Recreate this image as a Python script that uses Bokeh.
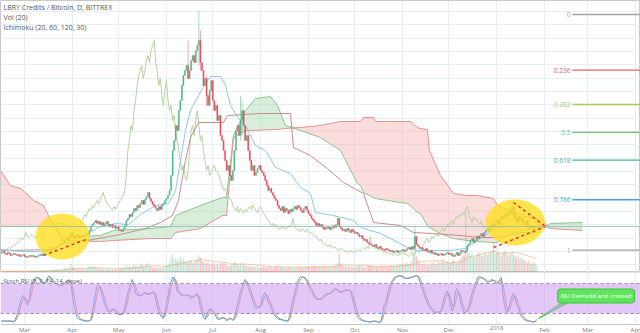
import numpy as np
import pandas as pd
from bokeh.plotting import figure
from bokeh.models import Range1d, FixedTicker, Span, Label, BoxAnnotation
from bokeh.layouts import column
from bokeh.embed import file_html
from bokeh.resources import INLINE
from bokeh.core.properties import value

# ---------------- data (day index 0 = 2017-02-13, prices in satoshi) ----------------
month_days = [16, 47, 77, 108, 138, 169, 200, 230, 261, 291, 322, 353, 381, 412]
month_labels = ["Mar", "Apr", "May", "Jun", "Jul", "Aug", "Sep", "Oct", "Nov", "Dec", "2018", "Feb", "Mar", "Apr"]

first_open = 1850
close = [
    1925, 2000, 1850, 1775, 1925, 1850, 1700, 1775, 1850, 1775,
    1700, 1775, 1625, 1700, 1775, 1625, 1550, 1625, 1700, 1625,
    1700, 1625, 1550, 1625, 1700, 1775, 1700, 1850, 1925, 2000,
    2075, 2150, 2075, 2225, 2300, 2225, 2375, 2450, 2525, 2600,
    2675, 2825, 2975, 2900, 3125, 3425, 3125, 3050, 3200, 3275,
    3125, 3050, 3200, 3125, 3275, 3350, 3275, 3575, 3875, 4025,
    4175, 4325, 4100, 4250, 4025, 4175, 3950, 4100, 4250, 4025,
    3875, 4025, 3800, 3950, 3725, 3875, 3650, 3575, 3500, 3725,
    3950, 4325, 4475, 4775, 4625, 4925, 5225, 5075, 5450, 5300,
    5600, 5825, 5525, 5900, 6125, 6425, 5975, 5750, 5525, 5375,
    5225, 5075, 5375, 5150, 5450, 5600, 5825, 5975, 6200, 6575,
    7700, 9575, 10325, 11450, 11075, 12575, 13325, 14450, 15200, 15575,
    15950, 14975, 15575, 16325, 16700, 16175, 17075, 17450, 17825, 16175,
    15575, 14450, 14975, 13700, 12950, 14075, 14825, 13325, 12575, 12950,
    11825, 12200, 10700, 10325, 9575, 8825, 8075, 8450, 7700, 7325,
    8075, 9575, 11075, 11450, 10700, 11825, 12575, 11450, 10325, 10700,
    9575, 8825, 8075, 8450, 7700, 7925, 8225, 8450, 8075, 7925,
    7700, 7325, 6950, 6575, 6725, 6425, 6200, 5975, 5825, 5450,
    5225, 5075, 5375, 4925, 5225, 5075, 4850, 5150, 5000, 5225,
    5375, 5150, 5450, 5300, 5075, 4925, 5225, 5375, 5075, 4850,
    4700, 4475, 4325, 4175, 3950, 4100, 3875, 4025, 3800, 3650,
    3800, 3725, 3875, 3650, 3725, 3950, 3800, 4025, 4475, 3875,
    3725, 3575, 3650, 3500, 3725, 3575, 3425, 3650, 3500, 3350,
    3425, 3275, 3125, 3200, 2975, 2825, 2900, 2675, 2600, 2525,
    2450, 2375, 2525, 2300, 2225, 2375, 2225, 2150, 2075, 2225,
    2150, 2075, 2000, 2075, 1925, 2000, 2075, 1925, 2000, 2075,
    2150, 2000, 2075, 2225, 2300, 2150, 2375, 2225, 3125, 2525,
    2375, 2225, 2300, 2150, 2075, 2225, 2000, 1925, 2075, 1850,
    1925, 1775, 1850, 1700, 1775, 1850, 1700, 1775, 1850, 1925,
    1775, 1850, 1700, 1625, 1775, 1925, 1700, 1850, 2075, 2000,
    1925, 2075, 2450, 2600, 2825, 2975, 2675, 2825, 3125, 2975,
    3200, 3350, 3125, 3425, 3575, 3725, 3500, 3800, 4025, 3875,
    4175, 4325, 4025, 4400, 4625, 4475, 4775, 4625, 4925, 4775,
    5225, 5375, 4775, 4475, 4175, 4625, 4325, 4475, 4175, 4025,
    4325, 3875, 3725, 3950, 3800, 3650, 3875, 3875,
]
wick_days = [122, 129, 130, 134, 156, 157, 269, 332]
wick_highs = [17825, 20075, 18575, 15200, 13700, 13325, 3950, 5825]
wick_lows = [14975, 15950, 15575, 12950, 10325, 10700, 2225, 4775]

volume = [
    12, 15, 10, 18, 12, 20, 14, 10, 16, 12,
    14, 10, 12, 18, 15, 11, 20, 13, 16, 12,
    18, 14, 12, 20, 16, 22, 15, 25, 20, 18,
    22, 26, 18, 30, 24, 28, 35, 30, 26, 32,
    40, 45, 60, 38, 50, 85, 55, 42, 48, 40,
    35, 30, 42, 36, 28, 34, 45, 60, 70, 55,
    65, 50, 45, 40, 38, 42, 35, 30, 40, 36,
    32, 28, 35, 30, 38, 33, 40, 36, 45, 50,
    60, 75, 55, 70, 50, 65, 80, 60, 70, 55,
    75, 90, 60, 70, 85, 95, 60, 55, 50, 45,
    50, 45, 55, 48, 52, 60, 65, 70, 80, 95,
    150, 180, 120, 140, 110, 130, 160, 120, 140, 110,
    120, 100, 115, 130, 90, 105, 120, 140, 170, 150,
    120, 110, 90, 100, 95, 80, 85, 95, 80, 75,
    85, 70, 90, 95, 80, 100, 75, 70, 65, 80,
    90, 110, 95, 85, 70, 80, 95, 75, 70, 65,
    60, 70, 55, 65, 58, 50, 62, 55, 48, 52,
    60, 55, 50, 58, 62, 55, 48, 52, 60, 70,
    55, 60, 50, 45, 52, 48, 55, 60, 50, 45,
    50, 48, 55, 60, 52, 45, 50, 55, 62, 58,
    55, 60, 70, 65, 58, 62, 55, 50, 60, 65,
    70, 60, 55, 62, 58, 65, 70, 80, 100, 190,
    90, 70, 65, 60, 58, 55, 62, 60, 55, 50,
    60, 65, 70, 62, 58, 55, 60, 65, 70, 75,
    68, 60, 55, 62, 58, 65, 70, 60, 55, 62,
    58, 65, 70, 75, 68, 62, 70, 80, 75, 85,
    90, 80, 95, 100, 85, 90, 110, 180, 400, 160,
    120, 100, 90, 85, 95, 80, 75, 90, 85, 95,
    100, 90, 85, 110, 95, 105, 120, 100, 115, 110,
    95, 105, 110, 120, 100, 95, 110, 130, 150, 170,
    180, 600, 260, 200, 170, 190, 150, 160, 180, 200,
    190, 170, 160, 200, 180, 175, 190, 210, 220, 300,
    200, 190, 210, 180, 170, 195, 220, 200, 180, 170,
    190, 210, 180, 160, 150, 170, 140, 150, 130, 120,
    110, 100, 120, 90, 80, 100, 85, 70,
]

stoch_k = [
    5, 5, 5, 5, 5, 5, 5, 4, 3, 8,
    16, 25, 40, 50, 56, 52, 42, 36, 50, 68,
    80, 88, 91, 93, 92, 86, 81, 80, 82, 84,
    92, 95, 90, 86, 82, 80, 78, 77, 75, 76,
    78, 81, 84, 85, 86, 82, 58, 36, 24, 12,
    9, 8, 7, 6, 5, 5, 5, 6, 8, 22,
    42, 60, 75, 76, 71, 60, 48, 38, 30, 24,
    23, 26, 29, 29, 24, 20, 18, 18, 19, 20,
    32, 48, 62, 72, 82, 88, 74, 60, 57, 56,
    55, 58, 61, 62, 60, 58, 59, 61, 63, 62,
    48, 33, 24, 17, 12, 10, 22, 40, 55, 72,
    84, 92, 92, 78, 64, 60, 58, 56, 55, 56,
    57, 58, 53, 50, 53, 56, 58, 60, 48, 32,
    22, 12, 8, 15, 25, 30, 27, 23, 20, 14,
    9, 8, 10, 12, 12, 8, 5, 9, 12, 9,
    6, 10, 25, 40, 52, 64, 74, 82, 88, 82,
    72, 62, 55, 45, 35, 30, 32, 34, 35, 48,
    58, 62, 52, 43, 38, 30, 22, 17, 13, 10,
    8, 8, 7, 6, 5, 5, 6, 18, 35, 48,
    60, 72, 84, 90, 94, 93, 91, 90, 84, 76,
    70, 64, 58, 52, 49, 48, 48, 49, 52, 55,
    58, 59, 60, 60, 63, 67, 70, 69, 65, 63,
    62, 64, 66, 68, 67, 66, 66, 56, 44, 32,
    22, 12, 9, 7, 6, 5, 4, 4, 3, 3,
    4, 5, 5, 4, 3, 2, 4, 18, 35, 42,
    55, 68, 78, 84, 89, 93, 94, 95, 96, 95,
    93, 91, 90, 90, 91, 92, 93, 94, 95, 96,
    94, 85, 75, 68, 58, 48, 42, 35, 30, 26,
    24, 22, 22, 23, 24, 25, 40, 52, 60, 65,
    55, 40, 25, 30, 58, 70, 66, 50, 38, 28,
    22, 23, 25, 35, 48, 60, 70, 78, 86, 93,
    94, 91, 90, 88, 85, 82, 84, 86, 88, 86,
    83, 80, 82, 88, 92, 60, 38, 25, 22, 32,
    45, 55, 60, 50, 38, 32, 22, 14, 10, 8,
    6, 5, 5, 4, 3, 3, 5, 8,
]

# Ichimoku (20, 60, 120, 30) lines: (day, price)
conv_days = [0.5, 13.4, 26.4, 36.1, 45.8, 55.5, 65.3, 75.0, 83.4, 91.2, 100.9, 109.3, 113.9, 117.1,
             120.3, 123.6, 128.8, 133.3, 136.5, 143.0, 146.3, 149.5, 154.7, 159.2, 165.7, 172.2,
             178.7, 188.4, 194.9, 201.3, 204.6, 216.2, 229.2, 233.7, 246.7, 253.2, 264.2, 270.7,
             281.0, 292.1, 301.8, 311.5, 321.2, 331.0, 340.7, 348.4]
conv_vals = [2150, 2000, 2000, 2300, 2825, 3275, 3875, 4100, 4025, 4775, 5450, 5600, 6575, 8825,
             11075, 12575, 13700, 14600, 15125, 15125, 14450, 12950, 11975, 11450, 9950, 9575,
             8300, 7850, 6800, 6350, 4925, 4700, 4325, 3800, 3350, 2975, 2300, 2075,
             2075, 2075, 2225, 2975, 3725, 4475, 4700, 4175]
base_days = [0.5, 36.1, 39.3, 56.8, 78.2, 94.4, 104.1, 111.9, 115.8, 120.3, 123.6, 128.8, 145.0,
             147.5, 168.9, 188.4, 190.3, 201.3, 212.3, 222.7, 235.7, 242.2, 259.7, 268.1, 281.0,
             298.5, 311.5, 324.5, 337.4, 348.4]
base_vals = [2075, 2150, 2600, 2825, 3275, 3725, 4175, 4700, 5825, 8825, 10550, 11675, 11675,
             12200, 12350, 12350, 9800, 9200, 8225, 7175, 6350, 4175, 3950, 3425, 3350,
             3200, 3050, 3050, 3425, 3425]
span_days = [0.5, 6.9, 13.4, 16.6, 21.8, 28.3, 30.9, 32.9, 36.1, 40.6, 65.3, 73.7, 97.7, 110.6,
             113.9, 130.1, 144.3, 146.9, 151.4, 159.2, 165.7, 175.4, 180.0, 185.1, 194.9, 207.8,
             220.8, 231.8, 233.7, 235.7, 242.2, 243.5, 251.2, 264.2, 266.1, 270.7, 272.6, 277.1,
             278.4, 285.6, 294.0, 303.1, 309.6, 320.0, 322.5, 331.0, 339.4, 352.3, 354.9, 356.8, 377.6]
span_a = [3875, 3875, 3875, 3875, 3875, 3875, 3875, 3875, 3800, 3050, 3200, 3575, 3725, 3875,
          4700, 5450, 6050, 6050, 10700, 12575, 13475, 13625, 12950, 11450, 11075, 10550,
          9575, 7100, 6950, 6425, 6050, 5975, 5825, 5600, 5450, 4925, 4850, 3950,
          3800, 3350, 2975, 2825, 2750, 2675, 2675, 3350, 3575, 3800, 3950, 4100, 4175]
span_b = [8075, 6950, 6725, 6425, 5825, 5450, 4850, 4325, 3875, 2825, 2750, 2825, 2975, 2975,
          3425, 3725, 4700, 4700, 10550, 11075, 11075, 11150, 11150, 11225, 11300, 11450,
          11750, 11750, 11750, 12050, 12050, 11750, 11750, 11750, 11750, 11300, 11225, 11150,
          9575, 7700, 6350, 6200, 6200, 5975, 5450, 5075, 4700, 4325, 3800, 3725, 3575]
lag_shift = 29

# Fibonacci retracement drawn on the chart
fib_high, fib_low = 19775, 2100
fib_ratios = [0, 0.236, 0.382, 0.5, 0.618, 0.786, 1]
fib_labels = ["0", "0.236", "0.382", "0.5", "0.618", "0.786", "1"]
fib_colors = ["#a3a3a3", "#d4676d", "#a9c95c", "#6cc070", "#45b59c", "#5b9fd6", "#a3a3a3"]
fib_start_day = 371

# Drawings: highlight ellipses and dashed trend lines
ell_days = [40.6, 334.0]
ell_prices = [3125, 4175]
ell_w_days = [35.0, 38.5]
ell_h_prices = [3450, 3450]
trend_x0 = [28.3, 332.9, 320.0]
trend_y0 = [1700, 5675, 2300]
trend_x1 = [57.5, 353.6, 353.6]
trend_y1 = [2975, 3875, 3875]

# Callout in the Stoch RSI pane
callout_text = "RSI Oversold and crossed"
callout_day, callout_val = 361.5, 55
callout_tail_days = [365.9, 371.1, 349.1]
callout_tail_vals = [46, 46, 10]

# ---------------- derived series ----------------
days = np.arange(1, len(close) + 1)
closes = np.array(close, float)
opens = np.concatenate([[first_open], closes[:-1]])
highs = np.maximum(opens, closes)
lows = np.minimum(opens, closes)
for d, h, l in zip(wick_days, wick_highs, wick_lows):
    highs[d - 1] = max(highs[d - 1], h)
    lows[d - 1] = min(lows[d - 1], l)
up = closes >= opens
UP, DN = "#53b987", "#eb4d5c"
ccol = np.where(up, UP, DN).tolist()
vol = np.array(volume, float)
vol_ma = pd.Series(vol).rolling(20, min_periods=1).mean().values
k = np.array(stoch_k, float)
dline = pd.Series(k).rolling(3, min_periods=1).mean().values
sa = np.array(span_a, float)
sb = np.array(span_b, float)
top = np.maximum(sa, sb)

X0, X1 = 0.45, 415.2
W = 640
FONT = "Open Sans"
GRID = "#e9eef3"
BORDER = "#c9c9c9"

# ---------------- main pane ----------------
p = figure(width=W, height=272, x_range=Range1d(X0, X1), y_range=Range1d(425, 20825),
           output_backend="svg", toolbar_location=None, min_border=0)
p.axis.visible = False
p.xgrid.ticker = FixedTicker(ticks=month_days)
p.ygrid.ticker = FixedTicker(ticks=list(range(1000, 21000, 1000)))
p.grid.grid_line_color = GRID
p.outline_line_color = BORDER
p.extra_y_ranges = {"vol": Range1d(0, 2720)}

# cloud
p.varea(x=span_days, y1=sb, y2=top, fill_color="#a5d6a7", fill_alpha=0.42)
p.varea(x=span_days, y1=sa, y2=top, fill_color="#f6b3b3", fill_alpha=0.45)
p.line(span_days, span_a, line_color="#8cc58e", line_width=1)
p.line(span_days, span_b, line_color="#e79191", line_width=1)
# lagging, base, conversion
p.line(days - lag_shift, closes, line_color="#b6d29f", line_width=1)
p.line(base_days, base_vals, line_color="#c98b92", line_width=1)
p.line(conv_days, conv_vals, line_color="#8cc8ee", line_width=1)

# volume
p.vbar(x=days, width=0.8, top=vol, bottom=0, y_range_name="vol",
       fill_color=ccol, line_color=None, fill_alpha=0.33)
p.line(days, vol_ma, y_range_name="vol", line_color="#f2a25c", line_width=1, line_alpha=0.55)

# last price line
p.add_layout(Span(location=closes[-1], dimension="width", line_color="#8fbcae", line_width=1, line_alpha=0.8))

# candles
p.segment(days, highs, days, lows, line_color=ccol, line_width=1, line_alpha=0.5)
p.vbar(x=days, width=0.8, top=np.maximum(opens, closes), bottom=np.minimum(opens, closes),
       fill_color=ccol, line_color=ccol, line_width=0.3)

# drawings
p.ellipse(x=ell_days, y=ell_prices, width=ell_w_days, height=ell_h_prices,
          fill_color="#ffe022", fill_alpha=0.8, line_color=None)
p.segment(trend_x0, trend_y0, trend_x1, trend_y1, line_color="#e8322c", line_width=1.5, line_dash="3 3")

# fibonacci
fib_prices = [fib_high - r * (fib_high - fib_low) for r in fib_ratios]
p.segment([fib_start_day] * len(fib_prices), fib_prices, [X1] * len(fib_prices), fib_prices,
          line_color=fib_colors, line_width=1.3)
p.text(x=[fib_start_day - 1.2] * len(fib_prices), y=fib_prices, text=fib_labels, text_color=fib_colors,
       text_font=value(FONT), text_font_size="6.5px", text_align="right", text_baseline="middle")

for i, t in enumerate(["LBRY Credits / Bitcoin, D, BITTREX", "Vol (20)", "Ichimoku (20, 60, 120, 30)"]):
    p.add_layout(Label(x=3, y=270 - 10 * i, x_units="screen", y_units="screen", text=t,
                       text_font=FONT, text_font_size="7px", text_color="#555555", text_baseline="top"))

# ---------------- stoch RSI pane (date labels sit under its base line) ----------------
S_LO, S_HI = -20, 102
s = figure(width=W, height=61, x_range=p.x_range, y_range=Range1d(S_LO, S_HI),
           output_backend="svg", toolbar_location=None, min_border=0)
s.axis.visible = False
s.grid.visible = False
s.outline_line_color = None
pane_bottom = -2
s.segment(month_days, [pane_bottom] * len(month_days), month_days, [S_HI] * len(month_days),
          line_color=GRID, line_width=1)
s.add_layout(Span(location=S_HI, dimension="width", line_color=BORDER, line_width=1))
s.add_layout(Span(location=pane_bottom, dimension="width", line_color=BORDER, line_width=1))

s.add_layout(BoxAnnotation(bottom=20, top=80, fill_color="#cf9ef0", fill_alpha=0.58, line_color=None))
for lv in (20, 80):
    s.add_layout(Span(location=lv, dimension="width", line_color="#9a88b3", line_width=1, line_dash="3 3"))
s.line(days, dline, line_color="#f08c4e", line_width=1)
s.line(days, k, line_color="#4aa2ea", line_width=1)

s.text(x=month_days, y=[pane_bottom - 2.5] * len(month_days), text=month_labels, text_color="#7a7a7a",
       text_font=value(FONT), text_font_size="6px", text_align="center", text_baseline="top")

s.patch(callout_tail_days, callout_tail_vals, fill_color="#5de65d", line_color="#3cc43c", line_width=1)
s.add_layout(Label(x=callout_day, y=callout_val, text=callout_text, text_font=FONT, text_font_size="6px",
                   text_color="white", text_baseline="middle", background_fill_color="#5de65d",
                   border_line_color="#3cc43c", border_line_width=1, padding=3, border_radius=3))
s.add_layout(Label(x=3, y=57, x_units="screen", y_units="screen", text="Stoch RSI (3, 3, 14, 14, close)",
                   text_font=FONT, text_font_size="6px", text_color="#555555", text_baseline="top"))

layout = column(p, s, spacing=0)
open("out.html", "w").write(file_html(layout, INLINE))
